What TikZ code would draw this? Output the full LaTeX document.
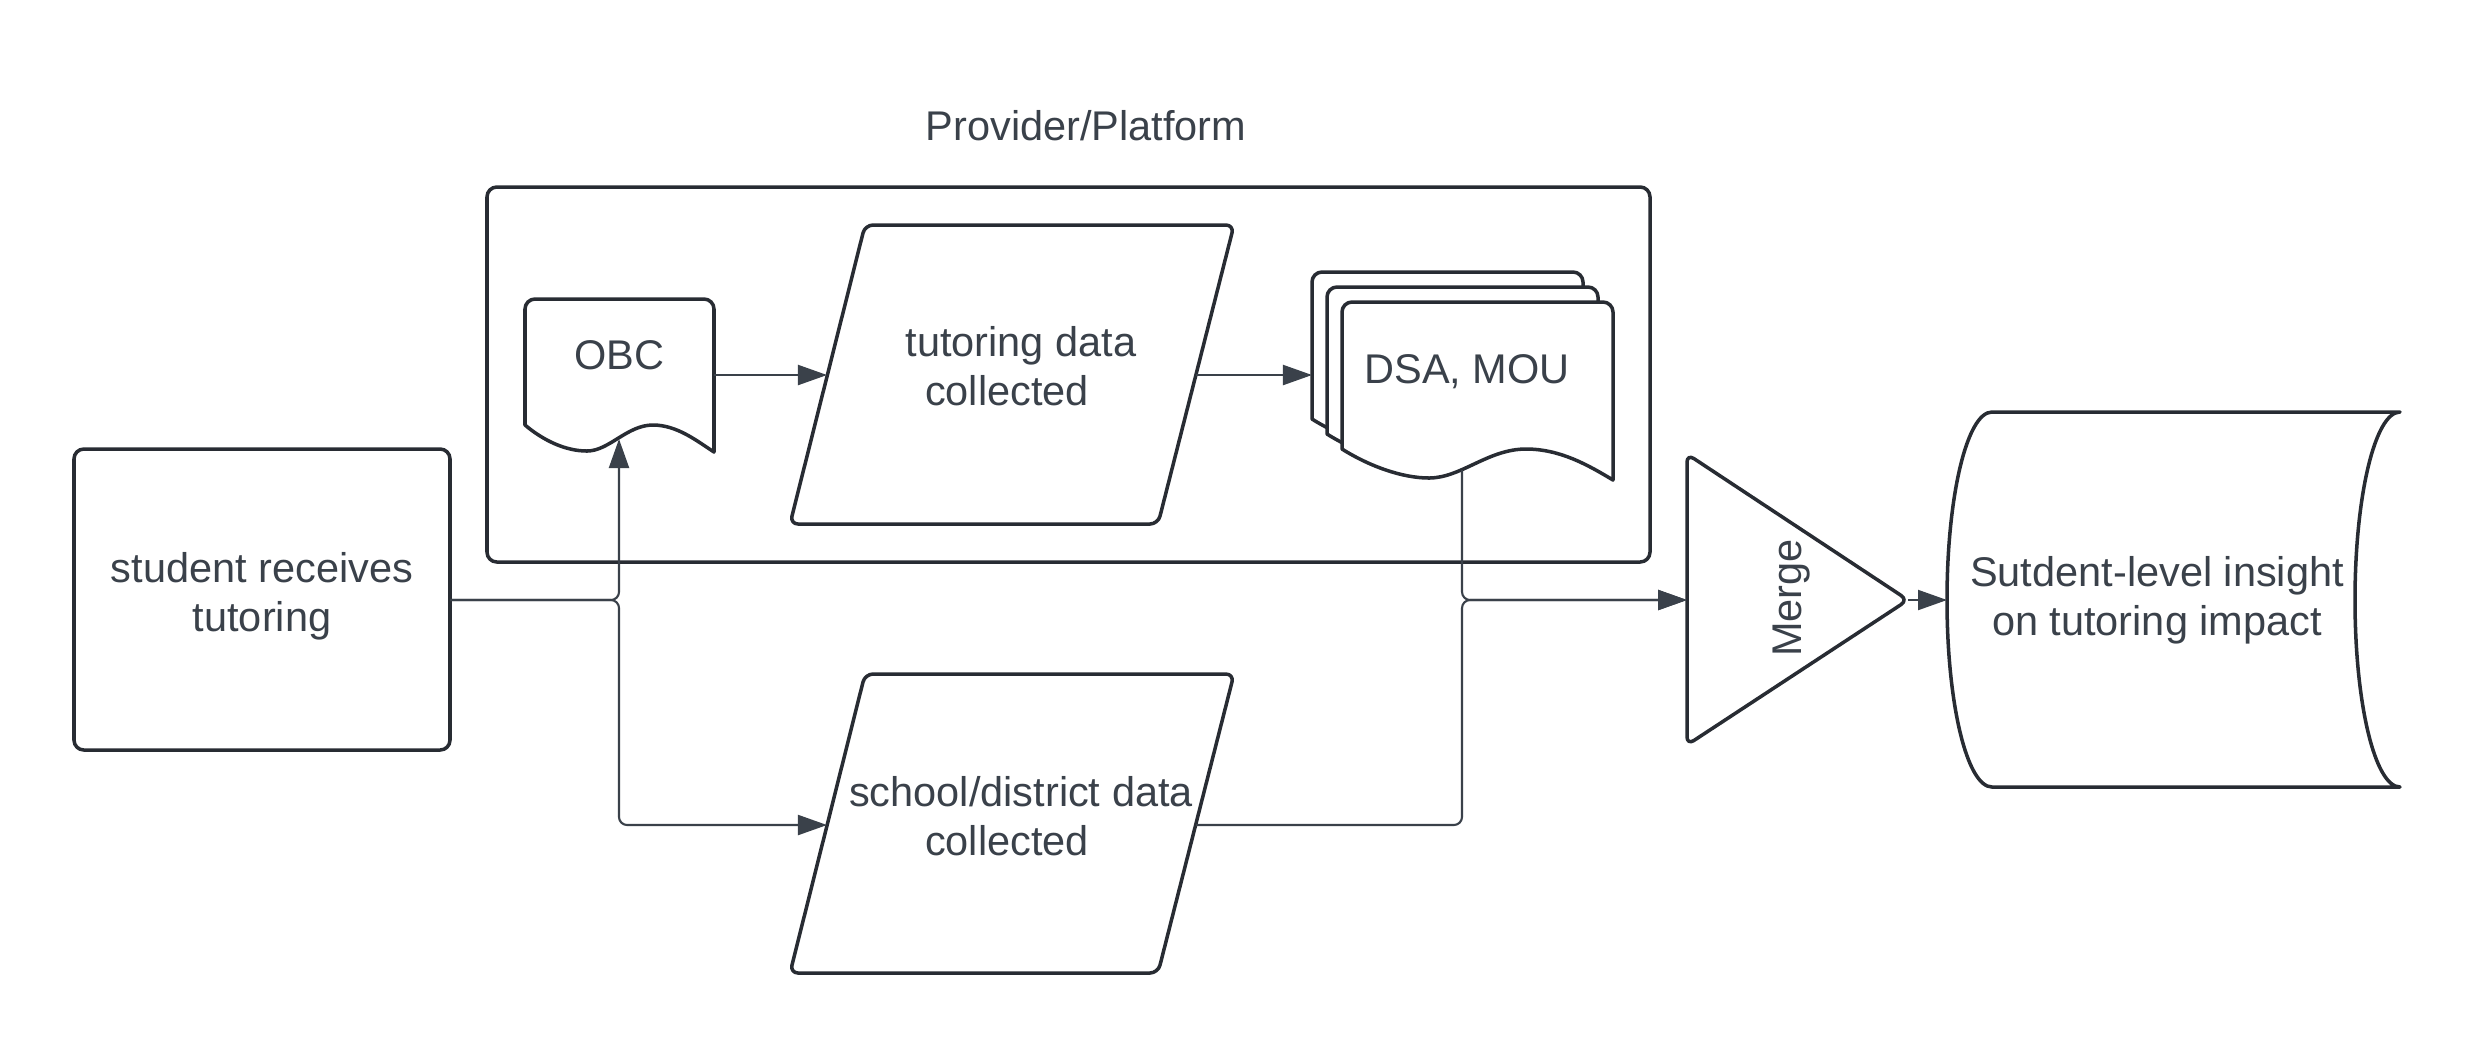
\documentclass[tikz,border=0pt]{standalone}
\usepackage{fontspec}
\setmainfont{Liberation Sans}
\usetikzlibrary{arrows.meta}
\definecolor{linec}{HTML}{282C33}
\definecolor{connc}{HTML}{3A414A}
\definecolor{textc}{HTML}{3A414A}
\newcommand{\dsasheet}[1]{%
  \draw[shp,#1] (1342,449) -- (1342,312) .. controls (1342,306.5) and (1346.5,302) .. (1352,302)
    -- (1603,302) .. controls (1608.5,302) and (1613,306.5) .. (1613,312)
    -- (1613,480) .. controls (1588,465) and (1560,449) .. (1526,449)
    .. controls (1488,449) and (1461,478) .. (1429,478)
    .. controls (1402,478) and (1369,466) .. (1342,449) -- cycle;}
\begin{document}
\begin{tikzpicture}[x=0.01cm,y=-0.01cm,
  shp/.style={draw=linec,line width=1pt,fill=white,line join=round},
  conn/.style={draw=connc,line width=0.6pt,rounded corners=2.3pt},
  arr/.style={-{Triangle[length=0.29cm,width=0.2cm]}},
  txt/.style={text=textc,font=\fontsize{11.8}{13.8}\selectfont,align=center,inner sep=0pt}]
\useasboundingbox (0,0) rectangle (2475,1050);

% container
\draw[shp,rounded corners=2.8pt] (487,187) rectangle (1650,562);
\node[txt] (prov) at (1086,126) {Provider/Platform};

% student
\draw[shp,rounded corners=2.8pt] (74,449) rectangle (450,750);
\node[txt] (student) at (262,596) {student receives\\tutoring};

% OBC document
\draw[shp] (525,425) -- (525,309) .. controls (525,303.5) and (529.5,299) .. (535,299)
  -- (704,299) .. controls (709.5,299) and (714,303.5) .. (714,309)
  -- (714,452) .. controls (697,441) and (677,425) .. (653,425)
  .. controls (627,425) and (609,451) .. (587,451)
  .. controls (566,451) and (544,441) .. (525,425) -- cycle;
\node[txt] (obc) at (619,355) {OBC};

% tutoring data parallelogram
\draw[shp,rounded corners=2.3pt] (1050,225) -- (1234,225) -- (1158,524) -- (790,524) -- (865,225) -- cycle;
\node[txt] (tut) at (1021,366) {tutoring data\\collected\hspace*{0.28cm}};

% school data parallelogram
\draw[shp,rounded corners=2.3pt] (1050,674) -- (1234,674) -- (1158,973) -- (790,973) -- (865,674) -- cycle;
\node[txt] (sch) at (1021,816) {school/district data\\collected\hspace*{0.28cm}};

% DSA, MOU multi-document
\dsasheet{shift={(-30,-30)}}
\dsasheet{shift={(-15,-15)}}
\dsasheet{}
\node[txt] (dsa) at (1467,372) {DSA, MOU};

% Merge triangle
\draw[shp,rounded corners=2.3pt] (1687,600) -- (1687,454) -- (1908,600) -- (1687,745) -- cycle;
\node[txt,rotate=90] (merge) at (1792,598) {Merge};

% stored data
\draw[shp] (2400,412) -- (1992,412) .. controls (1967,412) and (1947,496) .. (1947,600)
  .. controls (1947,704) and (1967,787) .. (1992,787) -- (2400,787)
  .. controls (2375,787) and (2355,704) .. (2355,600)
  .. controls (2355,496) and (2375,412) .. (2400,412) -- cycle;
\node[txt] (store) at (2157,600) {Sutdent-level insight\\on tutoring impact};

% connector end points
\coordinate (obcR) at (714,375);
\coordinate (tutL) at (827,375);
\coordinate (tutR) at (1196,375);
\coordinate (dsaL) at (1312,375);
\coordinate (stuR) at (450,600);
\coordinate (obcB) at (619,439);
\coordinate (schL) at (827,825);
\coordinate (schR) at (1196,825);
\coordinate (dsaB) at (1462,470);
\coordinate (mrgL) at (1687,600);
\coordinate (mrgR) at (1908,600);
\coordinate (stoL) at (1947,600);

% connectors
\draw[conn,arr] (obcR) -- (tutL);
\draw[conn,arr] (tutR) -- (dsaL);
\draw[conn,arr] (stuR) -| (obcB);
\draw[conn,arr] (stuR) -- (stuR -| obcB) |- (schL);
\draw[conn,arr] (dsaB) |- (mrgL);
\draw[conn,arr] (schR) -- (schR -| dsaB) |- (mrgL);
\draw[conn,arr] (mrgR) -- (stoL);
\end{tikzpicture}
\end{document}
